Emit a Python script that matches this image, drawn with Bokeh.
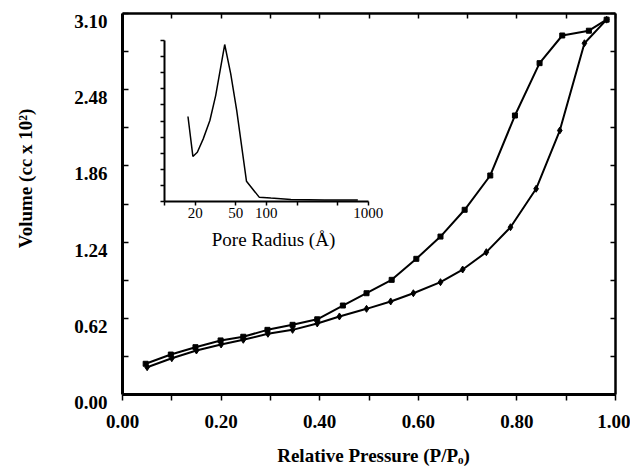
from bokeh.plotting import figure
from bokeh.models import (Range1d, LogScale, LinearAxis, FixedTicker, NumeralTickFormatter,
                          CustomJSTickFormatter, Label)
from bokeh.embed import file_html
from bokeh.resources import INLINE

# ---------------- data ----------------
# adsorption branch (lower curve)
p_ads = [0.05, 0.10, 0.15, 0.20, 0.245, 0.295, 0.345, 0.395, 0.44, 0.495,
         0.544, 0.59, 0.645, 0.69, 0.738, 0.787, 0.839, 0.887, 0.937, 0.982]
v_ads = [0.222, 0.295, 0.358, 0.407, 0.445, 0.494, 0.526, 0.578, 0.635, 0.697,
         0.757, 0.824, 0.914, 1.017, 1.158, 1.361, 1.674, 2.148, 2.858, 3.05]
# desorption branch (upper curve)
p_des = [0.047, 0.098, 0.148, 0.199, 0.245, 0.294, 0.345, 0.395, 0.447, 0.495,
         0.546, 0.596, 0.645, 0.694, 0.746, 0.796, 0.846, 0.892, 0.946, 0.982]
v_des = [0.25, 0.325, 0.385, 0.44, 0.47, 0.526, 0.567, 0.612, 0.724, 0.824,
         0.933, 1.104, 1.285, 1.503, 1.782, 2.27, 2.696, 2.921, 2.96, 3.05]

x_bounds = (0.0, 1.0)
y_bounds = (0.0, 3.10)
x_major = [0.0, 0.2, 0.4, 0.6, 0.8, 1.0]
x_minor = [0.1, 0.3, 0.5, 0.7, 0.9]
y_major = [0.0, 0.62, 1.24, 1.86, 2.48, 3.10]
y_minor = [0.31, 0.93, 1.55, 2.17, 2.79]

# inset: pore size distribution
radius = [17.0, 19.0, 21.0, 24.0, 27.9, 31.8, 39.0, 44.7, 51.2, 63.8, 85.0, 110.6, 174.0, 372.0, 791.0]
dist = [5.28, 2.80, 3.06, 3.89, 5.03, 6.58, 9.75, 7.93, 5.65, 1.26, 0.27, 0.21, 0.12, 0.10, 0.10]
inset_ticks = [10, 20, 50, 100, 200, 500, 1000]
inset_tick_labels = ["", "20", "50", "100", "", "", "1000"]
inset_y_ticks = [0, 1, 2, 3, 4, 5, 6, 7, 8, 9, 10]

# ---------------- layout (canvas pixels from top-left) ----------------
W, H = 630, 468
BOX_L, BOX_R, BOX_T, BOX_B = 122, 615, 13, 394          # main plot box
IN_L, IN_R, IN_T, IN_B = 164, 367.7, 40, 201            # inset box (10..1000, 0..10)
YLAB_SHIFT_PX = 8                                       # tick labels sit a bit below ticks

SERIF = "Liberation Serif"

# whole canvas is the frame; the visible box is drawn with positioned axes
xu = (x_bounds[1] - x_bounds[0]) / (BOX_R - BOX_L)
yu = (y_bounds[1] - y_bounds[0]) / (BOX_B - BOX_T)
x_range = Range1d(x_bounds[0] - BOX_L * xu, x_bounds[1] + (W - BOX_R) * xu)
y_range = Range1d(y_bounds[0] - (H - BOX_B) * yu, y_bounds[1] + BOX_T * yu)

p = figure(width=W, height=H, output_backend="svg", toolbar_location=None,
           x_range=x_range, y_range=y_range,
           x_axis_type=None, y_axis_type=None,
           min_border=0)
p.grid.visible = False
p.outline_line_color = None
p.background_fill_color = "white"
p.border_fill_color = "white"

empty = CustomJSTickFormatter(code="return ''")

def box_axis(side, loc, bounds, ticks, minor, tin, tout, lw):
    ax = LinearAxis(ticker=FixedTicker(ticks=ticks, minor_ticks=minor), formatter=empty,
                    fixed_location=loc, bounds=bounds)
    ax.axis_line_width = lw
    ax.major_tick_in = tin
    ax.major_tick_out = tout
    ax.minor_tick_in = tin
    ax.minor_tick_out = tout
    ax.major_tick_line_width = 1.5
    ax.minor_tick_line_width = 1.5
    ax.major_label_text_font_size = "0px"
    p.add_layout(ax, side)
    return ax

# box: left / bottom thick, top / right thinner
box_axis("left", x_bounds[0], y_bounds, y_major, y_minor, 6, 0, 3)
box_axis("right", x_bounds[1], y_bounds, y_major, y_minor, 5, 0, 2.5)
box_axis("above", y_bounds[1], x_bounds, x_major, x_minor, 5, 0, 2.5)

xax = LinearAxis(ticker=FixedTicker(ticks=x_major, minor_ticks=x_minor),
                 formatter=NumeralTickFormatter(format="0.00"),
                 fixed_location=y_bounds[0], bounds=x_bounds)
xax.axis_line_width = 3
xax.major_tick_in = 0
xax.major_tick_out = 6
xax.minor_tick_in = 0
xax.minor_tick_out = 6
xax.major_tick_line_width = 1.5
xax.minor_tick_line_width = 1.5
xax.major_label_standoff = 14
xax.major_label_text_font = SERIF
xax.major_label_text_font_style = "bold"
xax.major_label_text_font_size = "19px"
xax.major_label_text_color = "black"
p.add_layout(xax, "below")

# y tick labels on a slightly shifted copy of the y range
s = YLAB_SHIFT_PX * yu
p.extra_y_ranges = {"ylab": Range1d(y_range.start + s, y_range.end + s)}
ylab = LinearAxis(y_range_name="ylab", ticker=FixedTicker(ticks=y_major, minor_ticks=[]),
                  formatter=NumeralTickFormatter(format="0.00"),
                  fixed_location=x_bounds[0], bounds=(y_bounds[0] - 1, y_bounds[1] + 1))
ylab.axis_line_color = None
ylab.major_tick_line_color = None
ylab.major_tick_in = 0
ylab.major_tick_out = 0
ylab.major_label_standoff = 15
ylab.major_label_text_font = SERIF
ylab.major_label_text_font_style = "bold"
ylab.major_label_text_font_size = "19px"
ylab.major_label_text_color = "black"
p.add_layout(ylab, "left")

# ---- main curves ----
p.line(p_ads, v_ads, line_color="black", line_width=2)
p.scatter(p_ads, v_ads, marker="diamond", size=7, color="black")
p.line(p_des, v_des, line_color="black", line_width=2)
p.scatter(p_des, v_des, marker="square", size=5, color="black")

# ---- inset (extra ranges mapped onto a sub-box of the canvas) ----
lo_dec, hi_dec = 1.0, 3.0  # log10 of 10 and 1000
per_px = (hi_dec - lo_dec) / (IN_R - IN_L)
iy_per_px = (inset_y_ticks[-1] - inset_y_ticks[0]) / (IN_B - IN_T)
p.extra_x_ranges = {"ix": Range1d(10 ** (lo_dec - IN_L * per_px), 10 ** (lo_dec + (W - IN_L) * per_px))}
p.extra_x_scales = {"ix": LogScale()}
p.extra_y_ranges["iy"] = Range1d(inset_y_ticks[0] - (H - IN_B) * iy_per_px,
                                 inset_y_ticks[0] + IN_B * iy_per_px)

p.line(radius, dist, x_range_name="ix", y_range_name="iy", line_color="black", line_width=1.5)

iax = LinearAxis(x_range_name="ix", y_range_name="iy", fixed_location=inset_y_ticks[0],
                 bounds=(inset_ticks[0], inset_ticks[-1]),
                 ticker=FixedTicker(ticks=inset_ticks, minor_ticks=[]),
                 major_label_overrides=dict(zip(inset_ticks, inset_tick_labels)))
iax.axis_line_width = 2
iax.major_tick_in = 0
iax.major_tick_out = 4
iax.major_tick_line_width = 1.5
iax.major_label_standoff = 2
iax.major_label_text_font = SERIF
iax.major_label_text_font_size = "15px"
iax.major_label_text_color = "black"
p.add_layout(iax, "below")

iay = LinearAxis(x_range_name="ix", y_range_name="iy", fixed_location=inset_ticks[0],
                 bounds=(inset_y_ticks[0], inset_y_ticks[-1]),
                 ticker=FixedTicker(ticks=inset_y_ticks, minor_ticks=[]), formatter=empty)
iay.axis_line_width = 2
iay.major_tick_in = 0
iay.major_tick_out = 4
iay.major_tick_line_width = 1.5
iay.major_label_text_font_size = "0px"
p.add_layout(iay, "left")

# ---- titles (screen units = canvas pixels from bottom-left) ----
p.add_layout(Label(x=25, y=H - 178, x_units="screen", y_units="screen",
                   text="Volume (cc x 10²)", angle=90, angle_units="deg",
                   text_align="center", text_baseline="middle",
                   text_font=SERIF, text_font_style="bold", text_font_size="19px",
                   text_color="black"))
p.add_layout(Label(x=373, y=H - 455, x_units="screen", y_units="screen",
                   text="Relative Pressure (P/Pₒ)",
                   text_align="center", text_baseline="middle",
                   text_font=SERIF, text_font_style="bold", text_font_size="19px",
                   text_color="black"))
p.add_layout(Label(x=273, y=H - 239, x_units="screen", y_units="screen",
                   text="Pore Radius (Å)",
                   text_align="center", text_baseline="middle",
                   text_font=SERIF, text_font_size="19px", text_color="black"))

open("out.html", "w").write(file_html(p, INLINE))
